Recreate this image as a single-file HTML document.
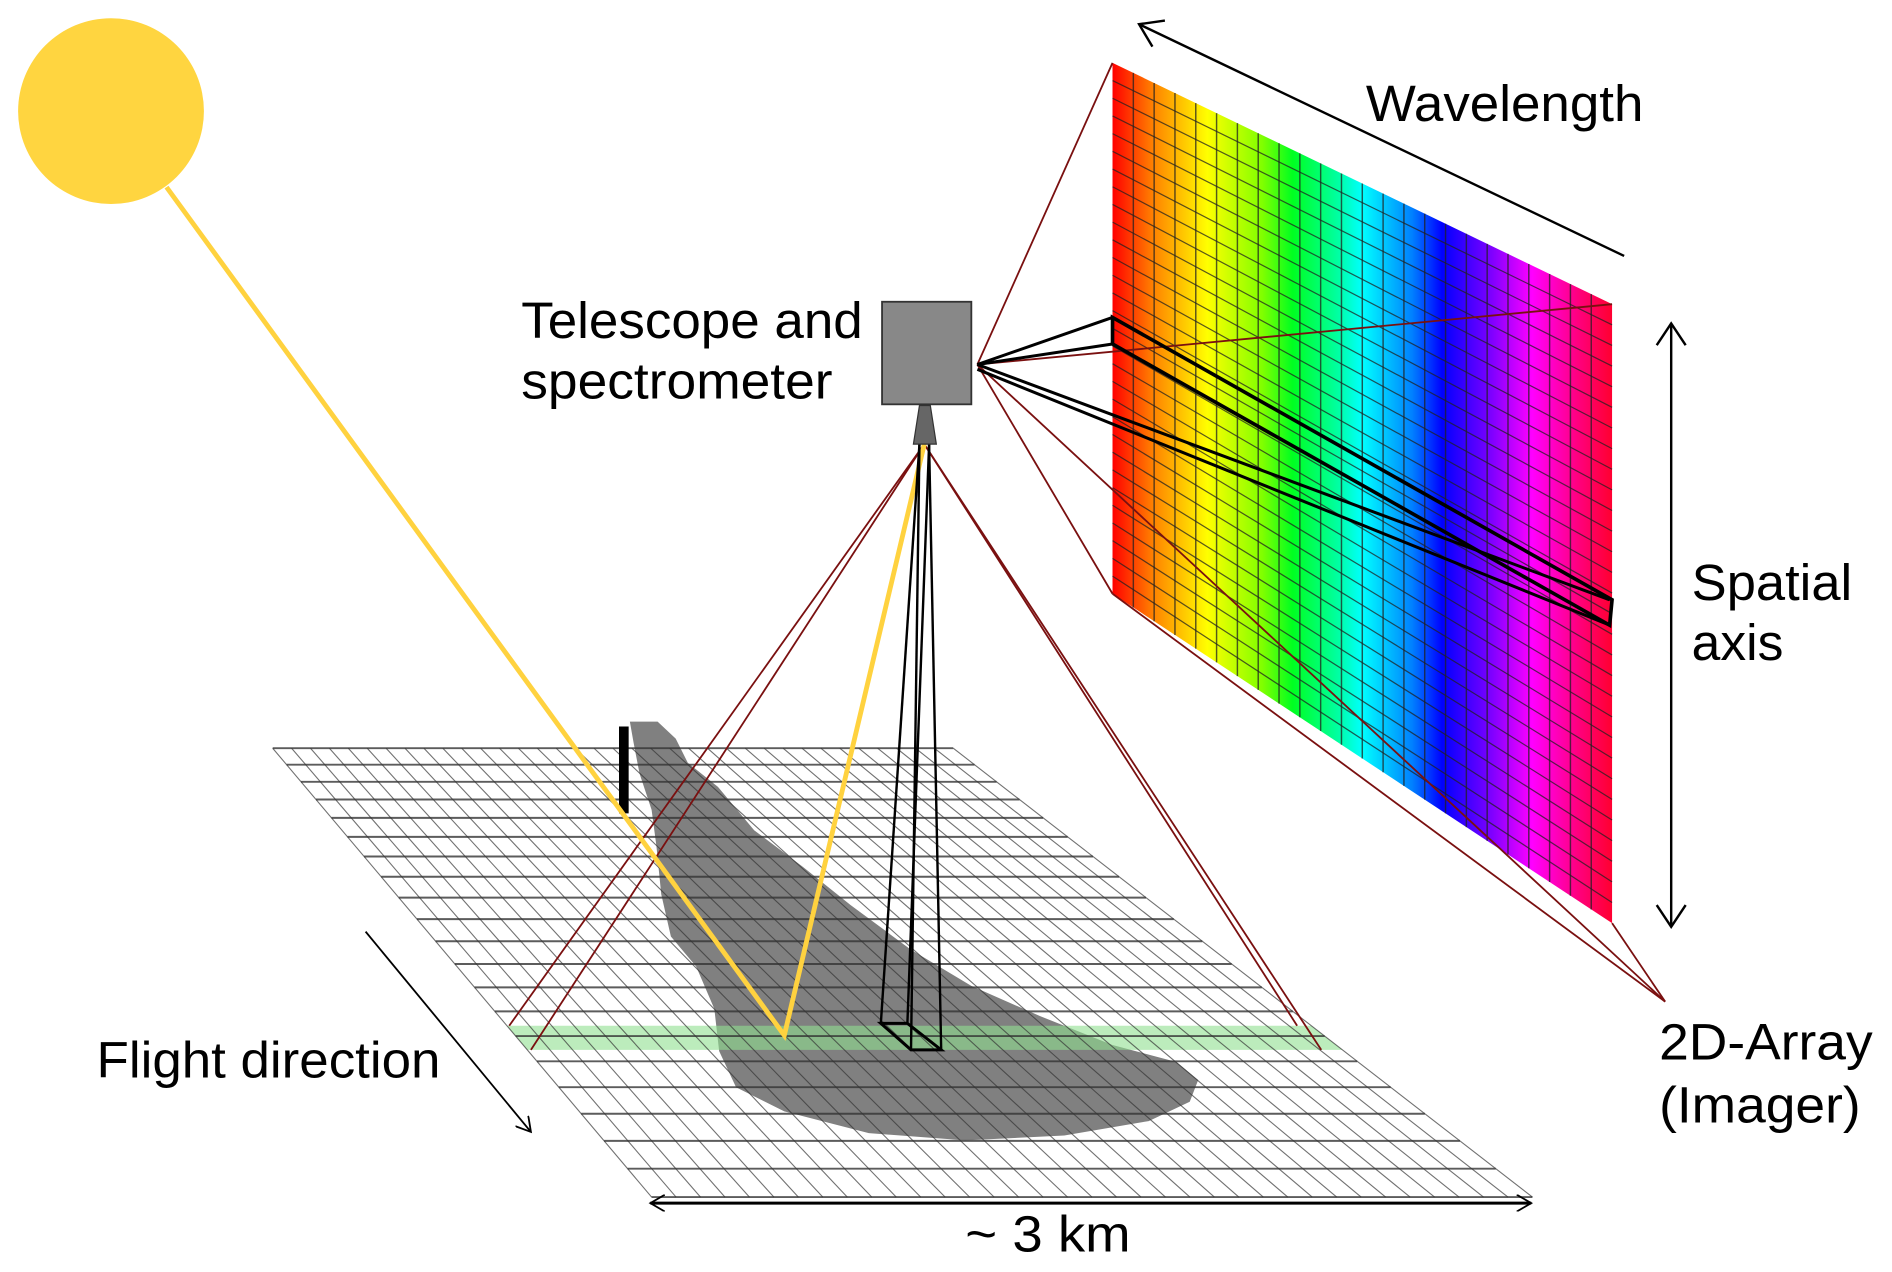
<!DOCTYPE html>
<html><head><meta charset="utf-8"><style>
html,body{margin:0;padding:0;background:#fff;}
svg{display:block;}
text{font-family:"Liberation Sans",sans-serif;fill:#000;}
</style></head><body>
<svg id="s" width="1892" height="1272" viewBox="0 0 1568 1054" xmlns="http://www.w3.org/2000/svg">
<defs>
<linearGradient id="spec" x1="922" y1="0" x2="1336" y2="0" gradientUnits="userSpaceOnUse">
<stop offset="0" stop-color="#ff0000"/>
<stop offset="0.08" stop-color="#ff8000"/>
<stop offset="0.19" stop-color="#ffff00"/>
<stop offset="0.3" stop-color="#80ff00"/>
<stop offset="0.36" stop-color="#00ff20"/>
<stop offset="0.45" stop-color="#00ffa0"/>
<stop offset="0.5" stop-color="#00ffff"/>
<stop offset="0.6" stop-color="#0080ff"/>
<stop offset="0.66" stop-color="#0000ff"/>
<stop offset="0.76" stop-color="#8000ff"/>
<stop offset="0.84" stop-color="#ff00ff"/>
<stop offset="0.93" stop-color="#ff0080"/>
<stop offset="1" stop-color="#ff0030"/>
</linearGradient>
<marker id="ah" markerWidth="14" markerHeight="14" refX="12" refY="7" orient="auto-start-reverse" markerUnits="userSpaceOnUse">
<path d="M0,0 L12,7 L0,14" fill="none" stroke="#000" stroke-width="1.5"/>
</marker>
<marker id="ahs" markerWidth="24" markerHeight="28" refX="20" refY="14" orient="auto-start-reverse" markerUnits="userSpaceOnUse">
<path d="M2,2 L20,14 L2,26" fill="none" stroke="#000" stroke-width="2"/>
</marker>
</defs>
<g id="ground"></g>
<g id="panel"></g>
<g id="rest"></g>
</svg>
<script>
var NS="http://www.w3.org/2000/svg";
function el(p,t,a){var e=document.createElementNS(NS,t);for(var k in a)e.setAttribute(k,a[k]);p.appendChild(e);return e;}
var G=document.getElementById('ground'),P=document.getElementById('panel'),R=document.getElementById('rest');
var yt=620,yb=992,xl0=226,xl1=540,xr0=790,xr1=1270;
function lx(y){return xl0+(xl1-xl0)*(y-yt)/(yb-yt);}
function rx(y){return xr0+(xr1-xr0)*(y-yt)/(yb-yt);}
el(G,'polygon',{points:xl0+','+yt+' '+xr0+','+yt+' '+xr1+','+yb+' '+xl1+','+yb,fill:'#fff'});
el(G,'path',{d:'M522,598 L545,598 L560,612 L570,632 L595,652 L625,688 L665,718 L705,750 L755,787 L805,817 L862,842 L922,866 L975,880 L993,895 L986,913 L952,929 L882,941 L800,945 L720,939 L650,921 L610,901 L596,871 L592,836 L577,801 L556,776 L548,741 L544,701 L540,671 L530,641 L525,615 Z',fill:'#808080'});
el(G,'polygon',{points:lx(850)+',850 '+rx(850)+',850 '+rx(870)+',870 '+lx(870)+',870',fill:'#90e090','fill-opacity':'0.6'});
var ys=[];var N=20;
for(var i=0;i<=N;i++){var t=i/N;ys.push(yt+(yb-yt)*(0.72*t+0.28*t*t));}
ys.forEach(function(y){el(G,'line',{x1:lx(y),y1:y,x2:rx(y),y2:y,stroke:'#333','stroke-width':1.6,'stroke-opacity':0.8});});
var C=36;
for(var j=0;j<=C;j++){var a=xl0+(xr0-xl0)*j/C,b=xl1+(xr1-xl1)*j/C;el(G,'line',{x1:a,y1:yt,x2:b,y2:yb,stroke:'#333','stroke-width':0.9,'stroke-opacity':0.7});}
el(G,'rect',{x:513,y:602,width:8,height:72,fill:'#000'});
el(P,'polygon',{points:'922,52 1336,252 1336,765 922,492',fill:'url(#spec)'});
var NC=24,NR=30;
for(var k=1;k<NC;k++){var x=922+414*k/NC;var y1=52+200*k/NC,y2=492+273*k/NC;el(P,'line',{x1:x,y1:y1,x2:x,y2:y2,stroke:'#222','stroke-width':1.2,'stroke-opacity':0.75});}
for(var r=1;r<NR;r++){el(P,'line',{x1:922,y1:52+440*r/NR,x2:1336,y2:252+513*r/NR,stroke:'#222','stroke-width':1,'stroke-opacity':0.75});}
var dr={stroke:'#7a1010','stroke-width':1.5,fill:'none'};
[[810,302,922,52],[810,302,1336,252],[810,302,922,492],[922,492,1380,830],[810,302,1380,830],[1336,765,1380,830],
 [766,368,422,850],[766,368,440,870],[766,368,1075,850],[766,368,1095,870]].forEach(function(l){var o={x1:l[0],y1:l[1],x2:l[2],y2:l[3]};for(var q in dr)o[q]=dr[q];el(R,'line',o);});
function bl(a,b,c,d,w){el(R,'line',{x1:a,y1:b,x2:c,y2:d,stroke:'#000','stroke-width':w||2.5});}
bl(810,302,922,263);bl(810,302,922,285);bl(810,302,1334,497);bl(810,306,1334,518);
el(R,'polygon',{points:'922,263 1336,497 1334,518 922,285',fill:'none',stroke:'#000','stroke-width':3});
el(R,'circle',{cx:92,cy:92,r:77,fill:'#ffd540'});
el(R,'polyline',{points:'138,155 650,858 766,368',fill:'none',stroke:'#ffd23f','stroke-width':4});
bl(762,368,730,848,2);bl(762,368,755,870,2);bl(770,368,752,848,2);bl(770,368,780,870,2);
el(R,'polygon',{points:'730,848 752,848 780,870 755,870',fill:'none',stroke:'#000','stroke-width':2.5});
el(R,'rect',{x:731,y:250,width:74,height:85,fill:'#888',stroke:'#333','stroke-width':1.5});
el(R,'polygon',{points:'762,336 771,336 776,368 757,368',fill:'#666',stroke:'#333','stroke-width':1});
el(R,'line',{x1:1346,y1:212,x2:944,y2:20,stroke:'#000','stroke-width':2,'marker-end':'url(#ahs)'});
el(R,'line',{x1:1385,y1:268,x2:1385,y2:768,stroke:'#000','stroke-width':2,'marker-start':'url(#ahs)','marker-end':'url(#ahs)'});
el(R,'line',{x1:303,y1:772,x2:440,y2:938,stroke:'#000','stroke-width':1.5,'marker-end':'url(#ah)'});
el(R,'line',{x1:539,y1:997,x2:1269,y2:997,stroke:'#000','stroke-width':2.5,'marker-start':'url(#ah)','marker-end':'url(#ah)'});
function tx(x,y,s,w){var e=el(R,'text',{x:x,y:y,'font-size':42,textLength:w,lengthAdjust:'spacingAndGlyphs'});e.textContent=s;}
tx(432,280,'Telescope and',283);tx(432,330,'spectrometer',258);
tx(1132,100,'Wavelength',230);tx(1402,497,'Spatial',133);tx(1402,547,'axis',76);
tx(1375,878,'2D-Array',177);tx(1375,930,'(Imager)',167);
tx(80,893,'Flight direction',285);tx(800,1037,'~ 3 km',137);
</script>
</body></html>
